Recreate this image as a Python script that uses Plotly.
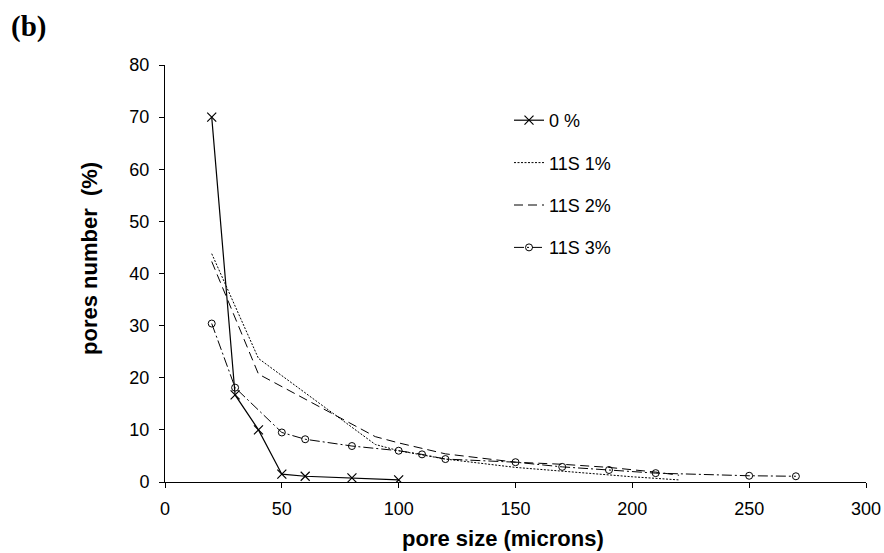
import plotly.graph_objects as go

# ---- data ----
x0 = [20, 30, 40, 50, 60, 80, 100]
y0 = [70, 16.7, 10, 1.5, 1.1, 0.8, 0.4]

x1 = [20, 40, 90, 100, 120, 150, 200, 220]
y1 = [43.8, 23.7, 7.2, 6.0, 4.4, 2.8, 1.0, 0.4]

x2 = [20, 40, 90, 100, 120, 150, 170, 190, 210, 220]
y2 = [42.3, 20.7, 8.7, 7.5, 5.4, 3.8, 3.4, 2.8, 1.9, 1.3]

x3 = [20, 30, 50, 60, 80, 100, 110, 120, 150, 170, 190, 210, 250, 270]
y3 = [30.4, 18.1, 9.5, 8.2, 6.9, 6.0, 5.3, 4.4, 3.8, 2.9, 2.3, 1.7, 1.2, 1.1]

names = ["0 %", "11S 1%", "11S 2%", "11S 3%"]

x_ticks = [0, 50, 100, 150, 200, 250, 300]
y_ticks = [0, 10, 20, 30, 40, 50, 60, 70, 80]

# plot-area geometry (pixels)
L, R, T, B = 165, 866, 65, 482
W, H = 884, 553


def px(xp):
    return (xp - L) / (R - L)


def py(yp):
    return (B - yp) / (B - T)


fig = go.Figure()
fig.add_trace(go.Scatter(
    x=x0, y=y0, name=names[0], mode="lines+markers", legendgroup="a",
    line=dict(color="black", width=1.2),
    marker=dict(symbol="x-thin", size=9, line=dict(color="black", width=1.2)),
))
fig.add_trace(go.Scatter(
    x=x1, y=y1, name=names[1], mode="lines", legendgroup="b",
    line=dict(color="black", width=1, dash="2px,1.5px"),
))
fig.add_trace(go.Scatter(
    x=x2, y=y2, name=names[2], mode="lines", legendgroup="c",
    line=dict(color="black", width=1, dash="9px,5px"),
))
fig.add_trace(go.Scatter(
    x=x3, y=y3, name=names[3], mode="lines+markers", legendgroup="d",
    line=dict(color="black", width=1, dash="10px,3px,2px,3px"),
    marker=dict(symbol="circle-open", size=7, color="black",
                line=dict(color="black", width=1)),
))

font_ax = "Liberation Sans, Arial, sans-serif"

fig.update_layout(
    width=W, height=H,
    margin=dict(l=L, r=W - R, t=T, b=H - B, autoexpand=False),
    paper_bgcolor="white", plot_bgcolor="white",
    showlegend=True,
    legend=dict(
        x=px(509), y=py(102), xanchor="left", yanchor="top",
        font=dict(family=font_ax, size=18, color="black"),
        bgcolor="rgba(0,0,0,0)", borderwidth=0,
        traceorder="grouped", tracegroupgap=16,
    ),
    xaxis=dict(
        range=[0, 300], tickvals=x_ticks, ticktext=[str(v) for v in x_ticks],
        showline=True, linecolor="black", linewidth=1,
        ticks="outside", ticklen=5, tickcolor="black", tickwidth=1,
        showgrid=False, zeroline=False, automargin=False,
        ticklabelstandoff=5,
        tickfont=dict(family=font_ax, size=18, color="black"),
    ),
    yaxis=dict(
        range=[0, 80], tickvals=y_ticks, ticktext=[str(v) for v in y_ticks],
        showline=True, linecolor="black", linewidth=1,
        ticks="outside", ticklen=5, tickcolor="black", tickwidth=1,
        showgrid=False, zeroline=False, automargin=False,
        ticklabelstandoff=6,
        tickfont=dict(family=font_ax, size=18, color="black"),
    ),
    annotations=[
        dict(text="<b>(b)</b>", xref="paper", yref="paper",
             x=px(9), y=py(27), xanchor="left", yanchor="middle",
             showarrow=False,
             font=dict(family="Liberation Serif, Times New Roman, serif",
                       size=29, color="black")),
        dict(text="<b>pore size (microns)</b>", xref="paper", yref="paper",
             x=px(503), y=py(538), xanchor="center", yanchor="middle",
             showarrow=False,
             font=dict(family=font_ax, size=22, color="black")),
        dict(text="<b>pores number  (%)</b>", xref="paper", yref="paper",
             x=px(89), y=py(259), xanchor="center", yanchor="middle",
             textangle=-90, showarrow=False,
             font=dict(family=font_ax, size=22, color="black")),
    ],
)

fig.write_html("out.html")
